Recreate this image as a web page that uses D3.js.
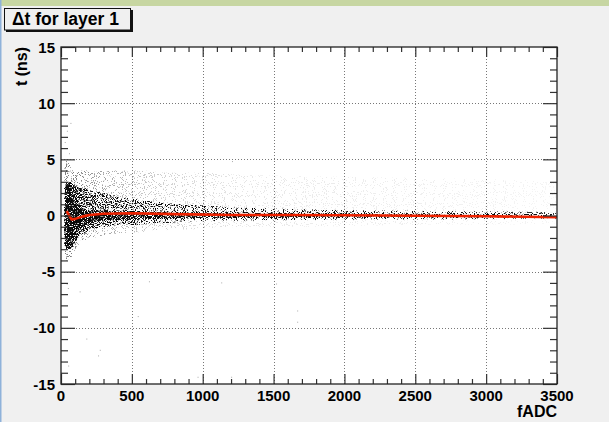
<!DOCTYPE html>
<html>
<head>
<meta charset="utf-8">
<script src="https://cdn.jsdelivr.net/npm/d3@7"></script>
<style>
  body { margin: 0; background: #f0f0f0; }
  text { font-family: "Liberation Sans", Arial, sans-serif; font-weight: bold; fill: #000; }
</style>
</head>
<body>
<script>
// profile of the scatter (red line)
const profF = [40, 55, 75, 100, 150, 200, 300, 500, 800, 1200, 1600, 2000, 2500, 3000, 3500];
const profT = [0.4, 0.05, -0.35, -0.3, -0.1, 0.05, 0.15, 0.2, 0.12, 0.05, 0.05, 0.02, -0.02, -0.07, -0.15];

// envelope of the 2D scatter per fADC bin (t in ns) and how dense each layer looks
const binF      = [25, 40, 60, 80, 100, 130, 170, 220, 300, 400, 550, 750, 1000, 1300, 1700, 2200, 2700, 3200, 3500];
const sparseHi  = [4.5, 5, 4.5, 4, 4, 4, 4, 4, 4, 4, 4, 3.8, 3.8, 3.6, 3.5, 3.4, 3.3, 3.2, 3];
const sparseLo  = [-3.5, -4, -4, -3.5, -3, -2.5, -2.2, -2, -1.8, -1.6, -1.5, -1.3, -1.2, -1, -1, -0.9, -0.8, -0.8, -0.7];
const haloHi    = [2.5, 3, 3, 2.8, 2.6, 2.5, 2.4, 2.2, 2, 1.7, 1.4, 1.1, 0.9, 0.7, 0.55, 0.45, 0.4, 0.35, 0.3];
const haloLo    = [-2.5, -3, -3, -2.8, -2.3, -1.8, -1.5, -1.2, -1, -0.9, -0.8, -0.65, -0.5, -0.45, -0.4, -0.35, -0.35, -0.3, -0.3];
const coreHi    = [1.2, 1.8, 1.8, 1.3, 0.9, 0.6, 0.5, 0.45, 0.45, 0.4, 0.35, 0.3, 0.25, 0.22, 0.2, 0.18, 0.15, 0.15, 0.12];
const coreLo    = [-1.5, -2.2, -2.2, -2, -1.6, -1.1, -0.8, -0.6, -0.45, -0.4, -0.35, -0.3, -0.25, -0.22, -0.2, -0.18, -0.15, -0.15, -0.12];
const sparseDen = [0.3, 0.4, 0.35, 0.3, 0.28, 0.25, 0.22, 0.2, 0.18, 0.15, 0.12, 0.09, 0.07, 0.05, 0.04, 0.035, 0.03, 0.025, 0.02];
const haloDen   = [0.7, 0.95, 0.95, 0.9, 0.8, 0.65, 0.55, 0.5, 0.45, 0.4, 0.38, 0.35, 0.32, 0.3, 0.28, 0.26, 0.24, 0.22, 0.2];
const coreDen   = [1, 1, 1, 1, 1, 0.95, 0.85, 0.8, 0.75, 0.7, 0.65, 0.6, 0.55, 0.5, 0.45, 0.4, 0.35, 0.3, 0.25];

// isolated entries far from the band
const outF = [44, 52, 135, 624, 805, 1134, 1521, 1670, 1670, 545, 277, 265, 182, 54, 1204, 967, 1882, 30, 45, 60, 1210, 70];
const outT = [-6.1, -6.5, -6.8, -5.9, -5.7, -6, -6.1, -8.5, -9.5, -9, -12, -12.5, -11, -13.4, -14.4, -14.4, -10.1, 6.5, 7.5, 5.5, 4.8, 8.2];

const xTicks = [0, 500, 1000, 1500, 2000, 2500, 3000, 3500];
const yTicks = [-15, -10, -5, 0, 5, 10, 15];

const W = 609, H = 422;
const X0 = 61, X1 = 557, Y0 = 47, Y1 = 384;

const svg = d3.select('body').append('svg')
    .attr('width', W)
    .attr('height', H);

// canvas background and window chrome
svg.append('rect').attr('width', W).attr('height', H).attr('fill', '#f0f0f0');
svg.append('rect').attr('width', W).attr('height', 6).attr('fill', '#c7d6a2');
svg.append('rect').attr('width', 1.5).attr('height', H).attr('fill', '#8fb2da');

// scales
const x = d3.scaleLinear().domain([0, 3500]).range([X0, X1]);
const y = d3.scaleLinear().domain([-15, 15]).range([Y1, Y0]);

const defs = svg.append('defs');
defs.append('clipPath').attr('id', 'frame')
  .append('rect').attr('x', X0).attr('y', Y0).attr('width', X1 - X0).attr('height', Y1 - Y0);

// speckle texture so the density looks like a scatter of entries
function speckle(id, seed) {
  const f = defs.append('filter').attr('id', id)
      .attr('filterUnits', 'userSpaceOnUse')
      .attr('x', X0).attr('y', Y0).attr('width', X1 - X0).attr('height', Y1 - Y0);
  f.append('feTurbulence').attr('type', 'fractalNoise').attr('baseFrequency', 0.9)
      .attr('numOctaves', 1).attr('seed', seed).attr('result', 'noise');
  f.append('feColorMatrix').attr('in', 'noise').attr('type', 'matrix')
      .attr('values', '0 0 0 0 0  0 0 0 0 0  0 0 0 0 0  4 0 0 0 -1.5').attr('result', 'n');
  f.append('feComposite').attr('in', 'SourceGraphic').attr('in2', 'n')
      .attr('operator', 'arithmetic').attr('k1', 0).attr('k2', 4).attr('k3', 4).attr('k4', -4);
}
speckle('speckleA', 7);
speckle('speckleB', 19);

// gradients carrying density along fADC
function densityGradient(id, den) {
  const g = defs.append('linearGradient').attr('id', id)
      .attr('gradientUnits', 'userSpaceOnUse')
      .attr('x1', X0).attr('x2', X1).attr('y1', 0).attr('y2', 0);
  g.selectAll('stop').data(binF).join('stop')
      .attr('offset', d => (x(d) - X0) / (X1 - X0))
      .attr('stop-color', '#000')
      .attr('stop-opacity', (d, i) => den[i]);
}
densityGradient('gSparse', sparseDen);
densityGradient('gHalo', haloDen);
densityGradient('gCore', coreDen);

// frame
svg.append('rect')
    .attr('x', X0).attr('y', Y0).attr('width', X1 - X0).attr('height', Y1 - Y0)
    .attr('fill', '#fff');

// grid
const grid = svg.append('g').attr('stroke', '#777').attr('stroke-width', 1).attr('stroke-dasharray', '1,2');
grid.selectAll('.gx').data(xTicks.slice(1, -1)).join('line')
    .attr('x1', d => Math.round(x(d)) + 0.5).attr('x2', d => Math.round(x(d)) + 0.5)
    .attr('y1', Y0).attr('y2', Y1);
grid.selectAll('.gy').data(yTicks.slice(1, -1)).join('line')
    .attr('y1', d => Math.round(y(d)) + 0.5).attr('y2', d => Math.round(y(d)) + 0.5)
    .attr('x1', X0).attr('x2', X1);

// scatter density
const idx = d3.range(binF.length);
const band = (hi, lo) => d3.area()
    .x(i => x(binF[i]))
    .y0(i => y(lo[i]))
    .y1(i => y(hi[i]))
    .curve(d3.curveMonotoneX)(idx);

const scat = svg.append('g').attr('clip-path', 'url(#frame)');
scat.append('g').attr('filter', 'url(#speckleB)').attr('opacity', 0.5)
  .append('path').attr('d', band(sparseHi, sparseLo)).attr('fill', 'url(#gSparse)');
const inner = scat.append('g').attr('filter', 'url(#speckleA)').attr('opacity', 0.95);
inner.append('path').attr('d', band(haloHi, haloLo)).attr('fill', 'url(#gHalo)');
inner.append('path').attr('d', band(coreHi, coreLo)).attr('fill', 'url(#gCore)');

svg.append('g').attr('clip-path', 'url(#frame)')
  .selectAll('rect').data(outF).join('rect')
    .attr('x', d => x(d) - 0.5)
    .attr('y', (d, i) => y(outT[i]) - 0.5)
    .attr('width', 1).attr('height', 1)
    .attr('fill', '#aaa');

// profile line
const line = d3.line()
    .x(d => x(d))
    .y((d, i) => y(profT[i]));
svg.append('path')
    .attr('d', line(profF))
    .attr('fill', 'none')
    .attr('stroke', '#ee2200')
    .attr('stroke-width', 2.6)
    .attr('stroke-linejoin', 'round');

// axes: ticks on all four sides pointing inwards
const xMinor = d3.range(0, 3501, 100).filter(d => d % 500 !== 0);
const yMinor = d3.range(-15, 15.01, 1).filter(d => d % 5 !== 0);

const axBottom = svg.append('g').attr('transform', `translate(0,${Y1})`)
    .call(d3.axisBottom(x).tickValues(xTicks).tickSize(-10).tickFormat(''));
const axBottomMinor = svg.append('g').attr('transform', `translate(0,${Y1})`)
    .call(d3.axisBottom(x).tickValues(xMinor).tickSize(-5).tickFormat(''));
const axTop = svg.append('g').attr('transform', `translate(0,${Y0})`)
    .call(d3.axisTop(x).tickValues(xTicks).tickSize(-10).tickFormat(''));
const axTopMinor = svg.append('g').attr('transform', `translate(0,${Y0})`)
    .call(d3.axisTop(x).tickValues(xMinor).tickSize(-5).tickFormat(''));
const axLeft = svg.append('g').attr('transform', `translate(${X0},0)`)
    .call(d3.axisLeft(y).tickValues(yTicks).tickSize(-14).tickFormat(''));
const axLeftMinor = svg.append('g').attr('transform', `translate(${X0},0)`)
    .call(d3.axisLeft(y).tickValues(yMinor).tickSize(-7).tickFormat(''));
const axRight = svg.append('g').attr('transform', `translate(${X1},0)`)
    .call(d3.axisRight(y).tickValues(yTicks).tickSize(-14).tickFormat(''));
const axRightMinor = svg.append('g').attr('transform', `translate(${X1},0)`)
    .call(d3.axisRight(y).tickValues(yMinor).tickSize(-7).tickFormat(''));

[axBottom, axBottomMinor, axTop, axTopMinor, axLeft, axLeftMinor, axRight, axRightMinor].forEach(g => {
  g.select('.domain').remove();
  g.selectAll('line').attr('stroke', '#333').attr('stroke-width', 1.2);
});

// frame border
svg.append('rect')
    .attr('x', X0).attr('y', Y0).attr('width', X1 - X0).attr('height', Y1 - Y0)
    .attr('fill', 'none').attr('stroke', '#222').attr('stroke-width', 1.3);

// tick labels
svg.append('g').selectAll('text').data(xTicks).join('text')
    .attr('x', d => x(d))
    .attr('y', 401)
    .attr('text-anchor', 'middle')
    .attr('font-size', 15)
    .text(d => d);
svg.append('g').selectAll('text').data(yTicks).join('text')
    .attr('x', 55)
    .attr('y', d => y(d) + 5.5)
    .attr('text-anchor', 'end')
    .attr('font-size', 15)
    .text(d => d);

// axis titles
svg.append('text')
    .attr('x', X1).attr('y', 417)
    .attr('text-anchor', 'end')
    .attr('font-size', 16)
    .text('fADC');
svg.append('text')
    .attr('transform', `translate(27,${Y0}) rotate(-90)`)
    .attr('text-anchor', 'end')
    .attr('font-size', 16)
    .text('t (ns)');

// title box with shadow
svg.append('rect').attr('x', 6).attr('y', 10).attr('width', 127).attr('height', 22).attr('fill', '#111');
svg.append('rect').attr('x', 4.5).attr('y', 8.5).attr('width', 126).attr('height', 21.5)
    .attr('fill', '#f0f0f0').attr('stroke', '#111').attr('stroke-width', 1);
svg.append('text')
    .attr('x', 12).attr('y', 25)
    .attr('font-size', 17.5)
    .text('Δt for layer 1');
</script>
</body>
</html>
